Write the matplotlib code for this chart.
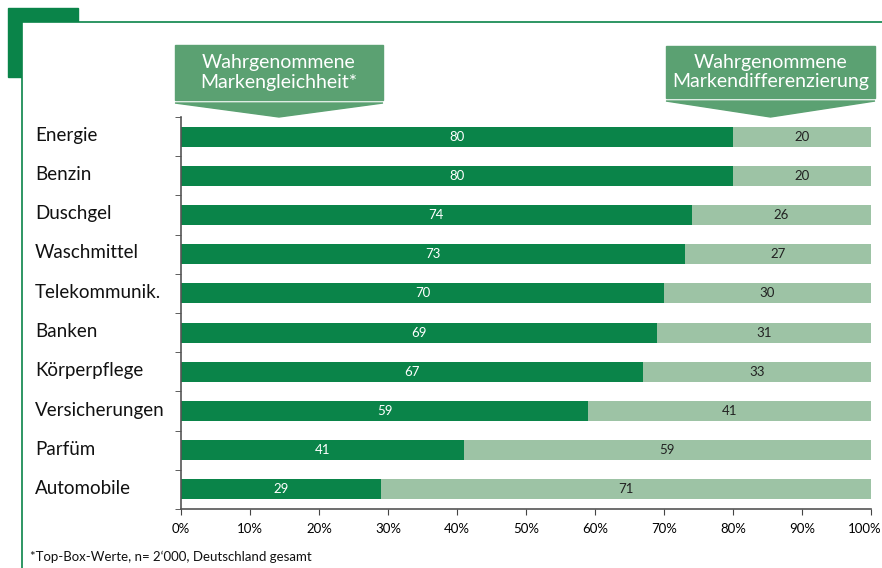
import numpy as np
import matplotlib.pyplot as plt
import matplotlib.transforms as mtransforms
from matplotlib.patches import Rectangle, Polygon

plt.rcParams['font.family'] = ['Lato', 'DejaVu Sans']

categories = ["Energie", "Benzin", "Duschgel", "Waschmittel", "Telekommunik.",
              "Banken", "Körperpflege", "Versicherungen", "Parfüm", "Automobile"]
gleichheit = [80, 80, 74, 73, 70, 69, 67, 59, 41, 29]
differenzierung = [20, 20, 26, 27, 30, 31, 33, 41, 59, 71]
xticks = [0, 10, 20, 30, 40, 50, 60, 70, 80, 90, 100]

dark = "#0a8449"
light = "#9dc3a5"
boxc = "#5ba172"

fig = plt.figure(figsize=(8.82, 5.68), dpi=100)
W, H = 882, 568

def fx(px):
    return px / W

def fy(py):
    return 1 - py / H

# frame decoration
fig.patches.append(Rectangle((fx(8), fy(77)), fx(70), 69 / H, color=dark,
                             transform=fig.transFigure, zorder=0))
fig.patches.append(Rectangle((fx(22), fy(600)), fx(900), 578 / H, facecolor="white",
                             edgecolor=dark, lw=1.2, transform=fig.transFigure, zorder=1))

ax = fig.add_axes([fx(181), fy(509), fx(871) - fx(181), (509 - 117) / H])
ax.set_zorder(2)
y = np.arange(len(categories))
ax.barh(y, gleichheit, height=0.51, color=dark)
ax.barh(y, differenzierung, left=gleichheit, height=0.51, color=light)

for i in range(len(categories)):
    ax.text(gleichheit[i] / 2, y[i], str(gleichheit[i]), color="white",
            ha="center", va="center", fontsize=9.5)
    ax.text(gleichheit[i] + differenzierung[i] / 2, y[i], str(differenzierung[i]),
            color="#222222", ha="center", va="center", fontsize=9.5)

ax.set_xlim(0, 100)
ax.set_ylim(len(categories) - 0.5, -0.5)
ax.set_xticks(xticks)
ax.set_xticklabels([f"{t}%" for t in xticks], fontsize=9.5)
ax.set_yticks(y)
ax.set_yticklabels([])
ax.set_yticks(np.arange(-0.5, len(categories)), minor=True)
ax.tick_params(axis="y", which="major", length=0)
ax.tick_params(axis="y", which="minor", length=4, color="#444444")
ax.tick_params(axis="x", length=4, color="#444444", pad=6)
for s in ["top", "right"]:
    ax.spines[s].set_visible(False)
for s in ["left", "bottom"]:
    ax.spines[s].set_color("#555555")
    ax.spines[s].set_linewidth(1.2)
ax.set_facecolor("none")

# keep "100%" inside the picture
last = ax.get_xticklabels()[-1]
last.set_transform(last.get_transform() + mtransforms.ScaledTranslation(-6 / 100, 0, fig.dpi_scale_trans))

for i, c in enumerate(categories):
    fig.text(fx(35), fy(135 + i * 39.3), c, fontsize=13.5, va="center", ha="left",
             color="#111111", zorder=3)

# header boxes with arrows
def header(x0, x1, ytop, ybot, tip, lines):
    fig.patches.append(Rectangle((fx(x0), fy(ybot)), fx(x1 - x0), (ybot - ytop) / H,
                                 color=boxc, transform=fig.transFigure, zorder=3))
    xm = (x0 + x1) / 2
    fig.patches.append(Polygon([(fx(x0), fy(ybot + 3)), (fx(x1), fy(ybot + 3)), (fx(xm), fy(tip))],
                               closed=True, color=boxc, transform=fig.transFigure, zorder=3))
    fig.text(fx(xm), fy((ytop + ybot) / 2), lines, color="white", fontsize=14,
             ha="center", va="center", linespacing=1.2, zorder=4)

header(175, 383, 45, 100, 117, "Wahrgenommene\nMarkengleichheit*")
header(666, 875, 46, 98, 117, "Wahrgenommene\nMarkendifferenzierung")

fig.text(fx(30), fy(557), "*Top-Box-Werte, n= 2‘000, Deutschland gesamt", fontsize=9.5,
         va="center", ha="left", color="#111111", zorder=3)

fig.savefig("out.png", dpi=100)
